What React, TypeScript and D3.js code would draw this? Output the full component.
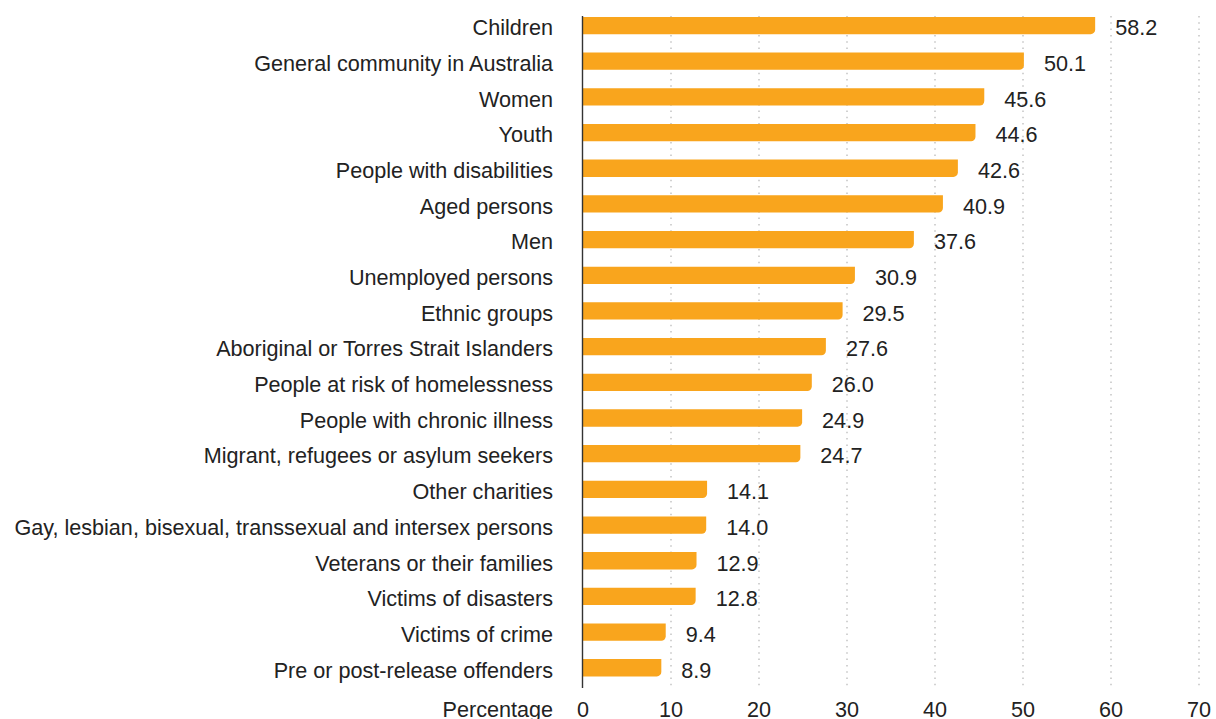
import React from "react";
import * as d3 from "d3";

const categories = [
  "Children",
  "General community in Australia",
  "Women",
  "Youth",
  "People with disabilities",
  "Aged persons",
  "Men",
  "Unemployed persons",
  "Ethnic groups",
  "Aboriginal or Torres Strait Islanders",
  "People at risk of homelessness",
  "People with chronic illness",
  "Migrant, refugees or asylum seekers",
  "Other charities",
  "Gay, lesbian, bisexual, transsexual and intersex persons",
  "Veterans or their families",
  "Victims of disasters",
  "Victims of crime",
  "Pre or post-release offenders",
];
const values = [58.2, 50.1, 45.6, 44.6, 42.6, 40.9, 37.6, 30.9, 29.5, 27.6, 26.0, 24.9, 24.7, 14.1, 14.0, 12.9, 12.8, 9.4, 8.9];
const tickValues = [0, 10, 20, 30, 40, 50, 60, 70];
const axisTitle = "Percentage";

const W = 1216;
const H = 719;
const FONT = "'Liberation Sans', Arial, Helvetica, sans-serif";
const FS = 21.6;
const TEXT = "#222";
const BAR = "#F9A51D";

export default function App() {
  const x = d3.scaleLinear().domain([0, 70]).range([583, 1199]);
  const y = d3
    .scaleBand<string>()
    .domain(categories)
    .range([7.7, 685.6])
    .paddingInner(0.515)
    .paddingOuter(0.2575);
  const bw = y.bandwidth();
  const r = 4.5;
  const barPath = (v: number, cat: string) => {
    const x0 = x(0);
    const x1 = x(v);
    const y0 = y(cat)!;
    const y1 = y0 + bw;
    const p = d3.path();
    p.moveTo(x0, y0);
    p.lineTo(x1, y0);
    p.lineTo(x1, y1 - r);
    p.arcTo(x1, y1, x1 - r, y1, r);
    p.lineTo(x0, y1);
    p.closePath();
    return p.toString();
  };
  const gridTop = 16;
  const gridBottom = 689;
  const labelY = 717;
  return (
    <svg
      width={W}
      height={H}
      style={{ position: "absolute", left: 0, top: 0, display: "block" }}
      fontFamily={FONT}
    >
      <rect x={0} y={0} width={W} height={H} fill="#fff" />
      {tickValues
        .filter((t) => t > 0)
        .map((t) => (
          <line
            key={"g" + t}
            x1={x(t)}
            x2={x(t)}
            y1={gridTop}
            y2={gridBottom}
            stroke="#b5b5b5"
            strokeWidth={1.2}
            strokeDasharray="1.5 4.8"
          />
        ))}
      {categories.map((c, i) => (
        <path key={"b" + c} d={barPath(values[i], c)} fill={BAR} />
      ))}
      <line x1={x(0) - 0.5} x2={x(0) - 0.5} y1={gridTop} y2={688} stroke="#333" strokeWidth={1.4} />
      {categories.map((c) => (
        <text
          key={"l" + c}
          x={553}
          y={y(c)! + bw / 2 + 9.8}
          textAnchor="end"
          fontSize={FS}
          fill={TEXT}
        >
          {c}
        </text>
      ))}
      {categories.map((c, i) => (
        <text
          key={"v" + c}
          x={x(values[i]) + 20}
          y={y(c)! + bw / 2 + 9.8}
          textAnchor="start"
          fontSize={FS}
          fill={TEXT}
        >
          {values[i].toFixed(1)}
        </text>
      ))}
      {tickValues.map((t) => (
        <text key={"t" + t} x={x(t)} y={labelY} textAnchor="middle" fontSize={FS} fill={TEXT}>
          {t}
        </text>
      ))}
      <text x={553} y={labelY} textAnchor="end" fontSize={FS} fill={TEXT}>
        {axisTitle}
      </text>
    </svg>
  );
}
